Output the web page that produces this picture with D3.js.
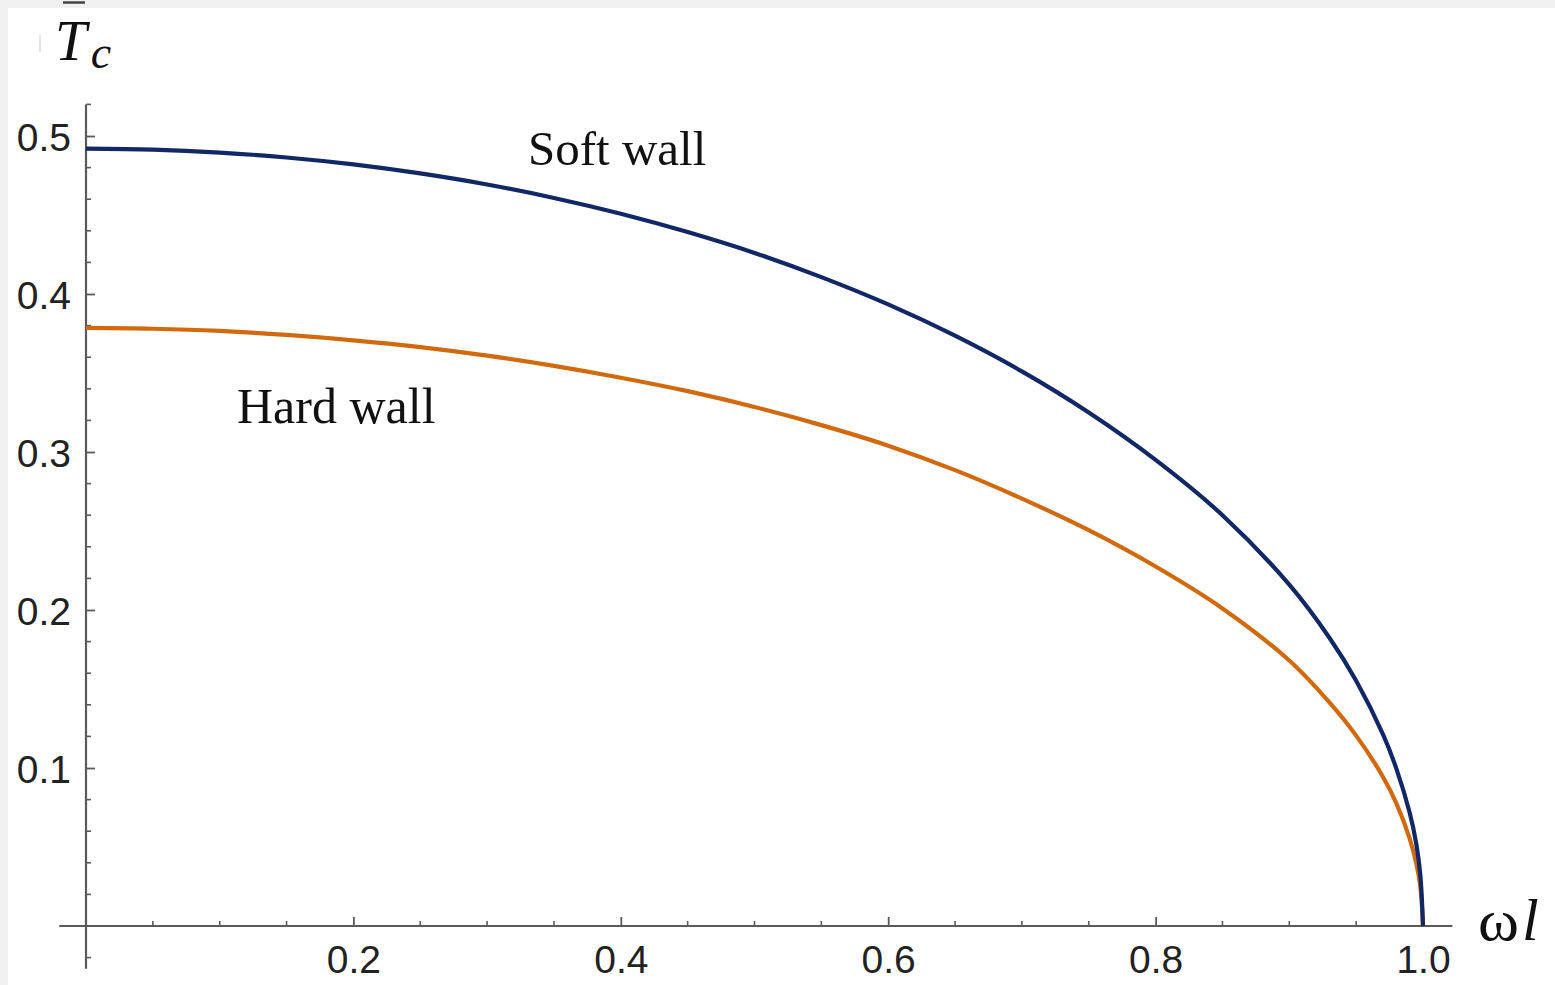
<!DOCTYPE html>
<html>
<head>
<meta charset="utf-8">
<script src="https://cdn.jsdelivr.net/npm/d3@7/dist/d3.min.js"></script>
<style>
  html, body { margin: 0; padding: 0; background: #f0f0f0; }
  svg { display: block; }
</style>
</head>
<body>
<svg id="chart" width="1555" height="985"></svg>
<script>
// Critical temperature vs. rotation parameter ωl for the two holographic models
const omega = [0, 0.05, 0.1, 0.15, 0.2, 0.25, 0.3, 0.35, 0.4, 0.45, 0.5, 0.55, 0.6,
  0.65, 0.7, 0.75, 0.8, 0.85, 0.9, 0.93, 0.95, 0.97, 0.98, 0.99, 0.995, 0.998, 1.0];
const softWall = [0.492, 0.4914, 0.4895, 0.4864, 0.482, 0.4763, 0.4693, 0.4608, 0.4508,
  0.4392, 0.426, 0.4107, 0.3934, 0.3736, 0.351, 0.325, 0.295, 0.26, 0.216, 0.1824,
  0.1552, 0.1214, 0.0998, 0.0718, 0.0518, 0.0322, 0];
const hardWall = [0.3785, 0.378, 0.3766, 0.3741, 0.3707, 0.3664, 0.361, 0.3545, 0.347,
  0.3385, 0.3285, 0.317, 0.304, 0.2885, 0.2705, 0.2505, 0.2275, 0.201, 0.168, 0.1415,
  0.1205, 0.0945, 0.0778, 0.0555, 0.0395, 0.025, 0];

const xMajorTicks = [0.2, 0.4, 0.6, 0.8, 1.0];
const xTickLabels = ["0.2", "0.4", "0.6", "0.8", "1.0"];
const yMajorTicks = [0.1, 0.2, 0.3, 0.4, 0.5];
const yTickLabels = ["0.1", "0.2", "0.3", "0.4", "0.5"];
const curveNames = ["Soft wall", "Hard wall"];

const svg = d3.select("#chart");

// frame: thin grey margin on the top and left, white canvas elsewhere
svg.append("rect").attr("x", 0).attr("y", 0).attr("width", 1555).attr("height", 985).attr("fill", "#f0f0f0");
svg.append("rect").attr("x", 8).attr("y", 8).attr("width", 1547).attr("height", 977).attr("fill", "#ffffff");

const x = d3.scaleLinear().domain([0, 1]).range([86, 1423]);
const y = d3.scaleLinear().domain([0, 0.5]).range([926, 136]);

const axisColor = "#5a5a5a";
const labelFont = "'Liberation Sans', Arial, sans-serif";
const serif = "'Liberation Serif', 'Times New Roman', serif";

// axis lines (crossing at the origin, extending a little past it)
svg.append("line")
  .attr("x1", x(-0.02)).attr("x2", x(1.022))
  .attr("y1", y(0)).attr("y2", y(0))
  .attr("stroke", axisColor).attr("stroke-width", 2.2);
svg.append("line")
  .attr("x1", x(0)).attr("x2", x(0))
  .attr("y1", y(0.52)).attr("y2", y(-0.027))
  .attr("stroke", axisColor).attr("stroke-width", 2.2);

// minor ticks
const xMinor = d3.range(0, 1.0001, 0.05).filter(v => !xMajorTicks.some(m => Math.abs(m - v) < 1e-6));
const yMinor = d3.range(-0.02, 0.5201, 0.02).filter(v => !yMajorTicks.some(m => Math.abs(m - v) < 1e-6));

svg.append("g").selectAll("line").data(xMinor).join("line")
  .attr("x1", d => x(d)).attr("x2", d => x(d))
  .attr("y1", y(0)).attr("y2", y(0) - 5)
  .attr("stroke", axisColor).attr("stroke-width", 1.6);
svg.append("g").selectAll("line").data(yMinor).join("line")
  .attr("x1", x(0)).attr("x2", x(0) + 5)
  .attr("y1", d => y(d)).attr("y2", d => y(d))
  .attr("stroke", axisColor).attr("stroke-width", 1.6);

// major ticks with labels
const xAxis = d3.axisBottom(x).tickValues(xMajorTicks).tickSize(-9)
  .tickFormat((d, i) => xTickLabels[i]);
const gx = svg.append("g").attr("transform", `translate(0,${y(0)})`).call(xAxis);
gx.select(".domain").remove();
gx.selectAll(".tick line").attr("stroke", axisColor).attr("stroke-width", 1.8);
gx.selectAll(".tick text")
  .attr("y", 47).attr("dy", null)
  .attr("fill", "#222").attr("font-family", labelFont).attr("font-size", 39);

const yAxis = d3.axisLeft(y).tickValues(yMajorTicks).tickSize(-9)
  .tickFormat((d, i) => yTickLabels[i]);
const gy = svg.append("g").attr("transform", `translate(${x(0)},0)`).call(yAxis);
gy.select(".domain").remove();
gy.selectAll(".tick line").attr("stroke", axisColor).attr("stroke-width", 1.8);
gy.selectAll(".tick text")
  .attr("x", -15).attr("dy", "0.36em")
  .attr("fill", "#222").attr("font-family", labelFont).attr("font-size", 39);

// curves
const line = d3.line()
  .x((d, i) => x(omega[i]))
  .y(d => y(d))
  .curve(d3.curveCatmullRom.alpha(0.5));

svg.append("path").datum(hardWall)
  .attr("d", line).attr("fill", "none")
  .attr("stroke", "#d2690f").attr("stroke-width", 4.2);
svg.append("path").datum(softWall)
  .attr("d", line).attr("fill", "none")
  .attr("stroke", "#112766").attr("stroke-width", 4.2);

// curve annotations
svg.append("text").attr("x", 528).attr("y", 165)
  .attr("font-family", serif).attr("font-size", 49).attr("fill", "#111")
  .text(curveNames[0]);
svg.append("text").attr("x", 237).attr("y", 423)
  .attr("font-family", serif).attr("font-size", 50).attr("fill", "#111")
  .text(curveNames[1]);

// axis titles
svg.append("line").attr("x1", 40).attr("x2", 40).attr("y1", 35).attr("y2", 52)
  .attr("stroke", "#dcdcdc").attr("stroke-width", 1.5);
svg.append("line").attr("x1", 63).attr("x2", 85).attr("y1", 2.5).attr("y2", 2.5)
  .attr("stroke", "#444").attr("stroke-width", 2.5);
const yTitle = svg.append("text").attr("x", 55).attr("y", 60)
  .attr("font-family", serif).attr("fill", "#111");
yTitle.append("tspan").attr("font-style", "italic").attr("font-size", 57).text("T");
yTitle.append("tspan").attr("font-style", "italic").attr("font-size", 46)
  .attr("dx", 4).attr("dy", 8).text("c");

svg.append("text").attr("x", 1478).attr("y", 940)
  .attr("font-family", serif).attr("fill", "#111").attr("font-size", 60)
  .attr("textLength", 41).attr("lengthAdjust", "spacingAndGlyphs")
  .text("ω");
svg.append("text").attr("x", 1522).attr("y", 940)
  .attr("font-family", serif).attr("fill", "#111").attr("font-size", 60)
  .attr("font-style", "italic")
  .text("l");
</script>
</body>
</html>
